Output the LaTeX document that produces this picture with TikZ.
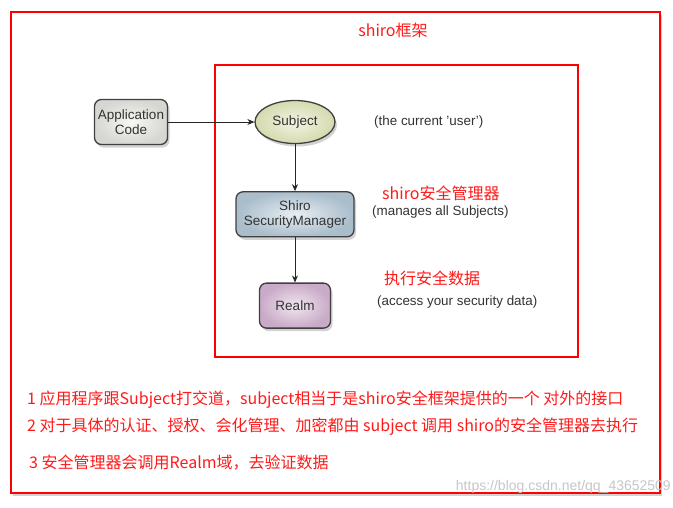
\documentclass[tikz,border=0pt]{standalone}
\usepackage{fontspec}
\setmainfont{Liberation Sans}
\newfontfamily\cjk{Noto Sans CJK SC}
\usetikzlibrary{arrows.meta,positioning,shapes.geometric,shadows}
\definecolor{shred}{HTML}{FF1A1A}
\definecolor{shtext}{HTML}{333333}
\definecolor{appin}{HTML}{F7F7F4}
\definecolor{appout}{HTML}{D6D6D2}
\definecolor{subjin}{HTML}{F3F4E2}
\definecolor{subjout}{HTML}{D4DAAE}
\definecolor{mgrin}{HTML}{E8EEF2}
\definecolor{mgrout}{HTML}{A9BDCB}
\definecolor{realmin}{HTML}{F0E6EE}
\definecolor{realmout}{HTML}{C9AAC8}
\tikzset{
  sh/frame/.style={draw=red, line width=2pt},
  sh/shadowed/.style={drop shadow={opacity=0.35, shadow xshift=2pt, shadow yshift=-3pt}},
  sh/box/.style={draw=black!75, line width=1.3pt, rounded corners=7pt, sh/shadowed, minimum width=73pt, minimum height=45pt, align=center, text=shtext, font=\fontsize{13.5}{15}\selectfont},
  sh/app/.style={sh/box, inner color=appin, outer color=appout},
  sh/subject/.style={sh/box, ellipse, rounded corners=0pt, minimum width=80pt, minimum height=43pt, inner color=subjin, outer color=subjout},
  sh/manager/.style={sh/box, minimum width=118pt, inner color=mgrin, outer color=mgrout},
  sh/realm/.style={sh/box, minimum width=71pt, inner color=realmin, outer color=realmout},
  sh/note/.style={text=shtext, font=\fontsize{13.4}{15}\selectfont, inner sep=0pt},
  sh/cn/.style={text=shred, font=\cjk\fontsize{16}{19}\selectfont, inner sep=0pt},
  sh/flow/.style={-{Stealth[length=7pt,width=6pt]}, thick, black!85}
}

\begin{document}
\begin{tikzpicture}[x=1pt, y=-1pt]
  \useasboundingbox (0,0) rectangle (673,507);
  \fill[white] (0,0) rectangle (673,507);
  \draw[sh/frame, sh/shadowed, fill=white] (11,12) rectangle (660,493);
  \draw[sh/frame] (215,65) rectangle (578,357);

  \node[sh/cn] (title) at (393,30) {shiro框架};

  \node[sh/app] (app) at (131,122) {Application\\Code};
  \node[sh/subject] (subject) at (295,122) {Subject};
  \node[sh/manager, below=47pt of subject] (secmgr) {Shiro\\SecurityManager};
  \node[sh/realm, below=45pt of secmgr] (realm) {Realm};
  \draw[sh/flow] (app) -- (subject);
  \draw[sh/flow] (subject) -- (secmgr);
  \draw[sh/flow] (secmgr) -- (realm);

  \node[sh/note, anchor=west] (subjectnote) at (374,122) {(the current 'user')};
  \node[sh/cn, anchor=west] (secmgrcn) at (382,193) {shiro安全管理器};
  \node[sh/note, anchor=west] (secmgrnote) at (372,212) {(manages all Subjects)};
  \node[sh/cn, anchor=west] (realmcn) at (384,278) {执行安全数据};
  \node[sh/note, anchor=west] (realmnote) at (377,302) {(access your security data)};

  \node[sh/cn, anchor=west] (line1) at (27,400) {1 应用程序跟Subject打交道，subject相当于是shiro安全框架提供的一个 对外的接口};
  \node[sh/cn, anchor=west] (line2) at (27,427) {2 对于具体的认证、授权、会化管理、加密都由 subject 调用 shiro的安全管理器去执行};
  \node[sh/cn, anchor=west] (line3) at (29,463) {3 安全管理器会调用Realm域，去验证数据};

  \node[anchor=east, text=black!22, font=\fontsize{14}{16}\selectfont, inner sep=0pt] (mark) at (671,487) {https://blog.csdn.net/qq\_43652509};
\end{tikzpicture}
\end{document}
